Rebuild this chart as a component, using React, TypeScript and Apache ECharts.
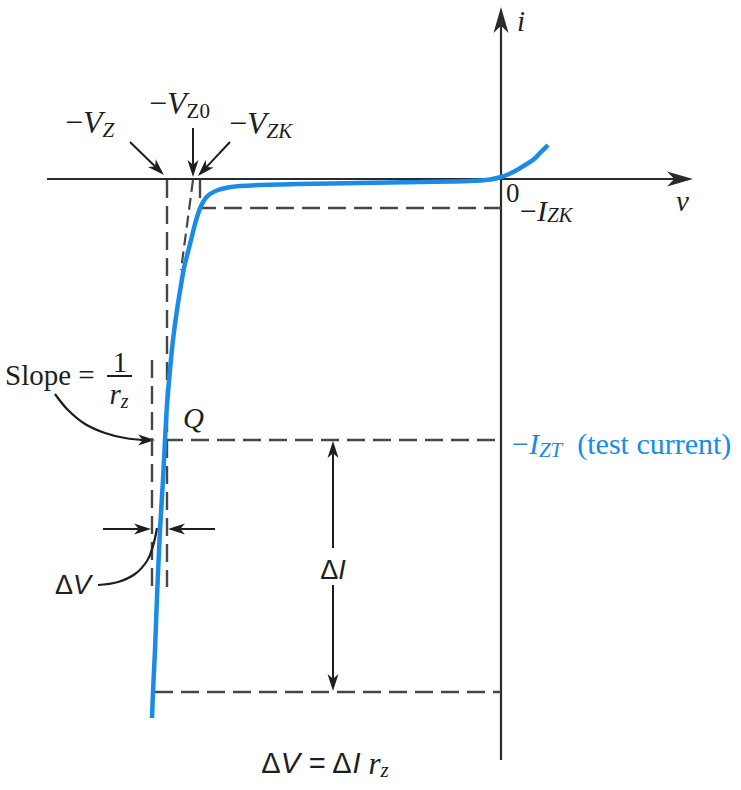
import React, { useEffect, useRef } from "react";
import * as echarts from "echarts";

const SERIF = '"Liberation Serif", "Times New Roman", serif';
const SANS = '"Liberation Sans", Arial, sans-serif';
const BLUE = "#1a8be6";
const INK = "#1e1e1e";
const DASH = "#474747";

// Frame: v (volts), i (mA); origin of the v-i plane at (0,0)
const V_RANGE = [-10.02, 4.8];
const I_RANGE = [-61.1, 17.9];

// Key values
const V_Z = -6.68;
const V_Z0 = -6.16;
const V_ZK = -6.02;
const V_LOW = -6.98;
const I_ZK = -2.9;
const I_ZT = -26.1;
const I_LOW = -51.3;

// Zener characteristic (v, i)
const curveV = [0.94, 0.78, 0.64, 0.48, 0.32, 0.16, 0, -0.22, -0.62, -1.62, -2.82, -4.02, -4.82, -5.22, -5.46, -5.66, -5.82,
  -5.92, -6.0, -6.06, -6.12, -6.18, -6.26, -6.34, -6.4, -6.48, -6.56, -6.62, -6.68, -6.72, -6.76, -6.82, -6.88, -6.92, -6.96, -6.98];
const curveI = [3.4, 2.6, 1.9, 1.4, 0.9, 0.5, 0.2, -0.05, -0.2, -0.3, -0.4, -0.5, -0.6, -0.7, -0.85, -1.1, -1.5,
  -2.0, -2.7, -3.5, -4.5, -5.7, -7.3, -8.9, -10.6, -13.1, -16.1, -19.1, -22.6, -26.1, -30.1, -35.1, -41.8, -47.1, -51.3, -53.9];

// Dashed guide lines
const vzGuide = [[V_Z, -0.1], [V_Z, -40.8]];
const vLowGuide = [[V_LOW, -18.1], [V_LOW, -40.8]];
const vz0Guide = [[V_Z0, -0.1], [-6.4, -9.1]];
const izkGuide = [[V_ZK, -0.1], [V_ZK, I_ZK], [0, I_ZK]];
const iztGuide = [[-6.72, I_ZT], [0, I_ZT]];
const iLowGuide = [[-6.92, I_LOW], [0, I_LOW]];

// Axes with arrowheads [v1, i1, v2(tip), i2(tip)]
const axisArrows = [[-9.08, 0, 3.84, 0], [0, -58.1, 0, 17.2]];
// Annotation arrows [from v, from i, tip v, tip i]
const noteArrows = [
  [-7.42, 3.7, -6.74, 0.4],
  [-6.16, 5.1, -6.16, 0.2],
  [-5.42, 3.7, -6.06, 0.3],
  [-7.96, -35, -7.0, -35],
  [-5.72, -35, -6.66, -35],
  [-3.36, -36.9, -3.36, -26.2],
  [-3.36, -40.6, -3.36, -51.2],
  [-7.22, -26.1, -6.92, -26.1],
];
// Curved leader lines
const slopeLeader = [[-8.92, -21.5], [-8.66, -23.1], [-8.32, -24.5], [-7.92, -25.4], [-7.52, -25.9], [-7.1, -26.1]];
const dvLeader = [[-8.06, -40.6], [-7.66, -40.3], [-7.32, -39.5], [-7.08, -38.2], [-6.96, -36.7], [-6.88, -34.9]];
const fractionBar = [[-7.88, -19.7], [-7.38, -19.7]];

function arrowSeries(data: number[][], headLen: number, headW: number, lineW: number, color: string) {
  return {
    type: "custom",
    data,
    silent: true,
    clip: false,
    encode: { x: [0, 2], y: [1, 3] },
    renderItem: (_p: any, api: any) => {
      const a = api.coord([api.value(0), api.value(1)]);
      const b = api.coord([api.value(2), api.value(3)]);
      const dx = b[0] - a[0];
      const dy = b[1] - a[1];
      const len = Math.hypot(dx, dy) || 1;
      const ux = dx / len, uy = dy / len, nx = -uy, ny = ux;
      const bx = b[0] - ux * headLen, by = b[1] - uy * headLen;
      const mx = b[0] - ux * headLen * 0.72, my = b[1] - uy * headLen * 0.72;
      return {
        type: "group",
        children: [
          { type: "line", shape: { x1: a[0], y1: a[1], x2: mx, y2: my }, style: { stroke: color, lineWidth: lineW } },
          {
            type: "polygon",
            shape: { points: [[b[0], b[1]], [bx + nx * headW / 2, by + ny * headW / 2], [mx, my], [bx - nx * headW / 2, by - ny * headW / 2]] },
            style: { fill: color },
          },
        ],
      };
    },
  };
}

function lineSeries(data: number[][], color: string, width: number, type: any = "solid", smooth: any = false) {
  return {
    type: "line",
    data,
    silent: true,
    symbol: "none",
    smooth,
    clip: false,
    lineStyle: { color, width, type, cap: "butt" },
  };
}

function richSet(color: string, size: number, subSize: number, lh: number) {
  const subLh = Math.round(lh * 0.52);
  return {
    n: { fontFamily: SERIF, fontSize: size, fill: color, lineHeight: lh },
    it: { fontFamily: SERIF, fontSize: size, fontStyle: "italic", fill: color, lineHeight: lh },
    sub: { fontFamily: SERIF, fontSize: subSize, fill: color, lineHeight: subLh, verticalAlign: "bottom" },
    subi: { fontFamily: SERIF, fontSize: subSize, fontStyle: "italic", fill: color, lineHeight: subLh, verticalAlign: "bottom" },
    s: { fontFamily: SANS, fontSize: size - 2, fill: color, lineHeight: lh },
    si: { fontFamily: SANS, fontSize: size - 2, fontStyle: "italic", fill: color, lineHeight: lh },
  };
}

export default function App() {
  const ref = useRef<HTMLDivElement>(null);
  useEffect(() => {
    const chart = echarts.init(ref.current!, null, { renderer: "svg" });
    const curve = curveV.map((v, k) => [v, curveI[k]]);
    chart.setOption({
      animation: false,
      backgroundColor: "#fff",
      grid: { left: 0, right: 0, top: 0, bottom: 0 },
      xAxis: { type: "value", min: V_RANGE[0], max: V_RANGE[1], show: false },
      yAxis: { type: "value", min: I_RANGE[0], max: I_RANGE[1], show: false },
      series: [
        lineSeries(vzGuide, DASH, 2.4, [18, 8]),
        lineSeries(vLowGuide, DASH, 2.4, [18, 8]),
        lineSeries(vz0Guide, DASH, 2.2, [12, 6]),
        lineSeries(izkGuide, DASH, 2.4, [18, 8]),
        lineSeries(iztGuide, DASH, 2.4, [18, 8]),
        lineSeries(iLowGuide, DASH, 2.4, [18, 8]),
        lineSeries(fractionBar, INK, 2),
        lineSeries(slopeLeader, INK, 2.2, "solid", 0.4),
        lineSeries(dvLeader, INK, 2.2, "solid", 0.4),
        arrowSeries(axisArrows, 26, 15, 2.2, "#2a2a2a"),
        arrowSeries(noteArrows, 17, 11, 2, INK),
        { ...lineSeries(curve, BLUE, 4.5, "solid", 0.3), z: 5 },
      ],
    });
    const px = (p: number[]) => chart.convertToPixel({ gridIndex: 0 }, p) as number[];
    const mk = (pos: number[], text: string, opts: any = {}) => {
      const { color = INK, align = "left", size = 29, sub = 20, lh = 34 } = opts;
      const [x, y] = px(pos);
      return {
        type: "text",
        x,
        y,
        silent: true,
        style: { text, rich: richSet(color, size, sub, lh), align, verticalAlign: "middle", fill: color, fontFamily: SERIF, fontSize: size },
      };
    };
    const big = { size: 32, sub: 21, lh: 36 };
    chart.setOption({
      graphic: [
        mk([-8.72, 5.7], "{n|−}{it|V}{subi|Z}", big),
        mk([-7.04, 7.6], "{n|−}{it|V}{sub|Z0}", big),
        mk([-5.44, 5.6], "{n|−}{it|V}{subi|ZK}", big),
        mk([0.32, 15.8], "{it|i}"),
        mk([3.5, -2.2], "{it|v}"),
        mk([0.1, -1.4], "{n|0}", { size: 27, lh: 24 }),
        mk([0.38, -3.1], "{n|−}{it|I}{subi|ZK}", { size: 30, sub: 21, lh: 30 }),
        mk([0.22, -26.4], "{n|−}{it|I}{subi|ZT}{n|  (test current)}", { color: BLUE, size: 30, sub: 21, lh: 34 }),
        mk([-6.36, -23.9], "{it|Q}"),
        mk([-9.92, -19.6], "{n|Slope =}"),
        mk([-7.62, -18.3], "{n|1}", { align: "center" }),
        mk([-7.64, -21.5], "{it|r}{subi|z}", { align: "center" }),
        mk([-8.92, -40.6], "{s|Δ}{si|V}"),
        mk([-3.36, -39.1], "{s|Δ}{si|I}", { align: "center" }),
        mk([-3.52, -58.4], "{s|Δ}{si|V}{s| = Δ}{si|I}{s| }{it|r}{subi|z}", { align: "center", size: 31, sub: 21, lh: 34 }),
      ],
    });
    return () => chart.dispose();
  }, []);
  return <div ref={ref} style={{ position: "fixed", left: 0, top: 0, width: 741, height: 790, background: "#fff" }} />;
}
